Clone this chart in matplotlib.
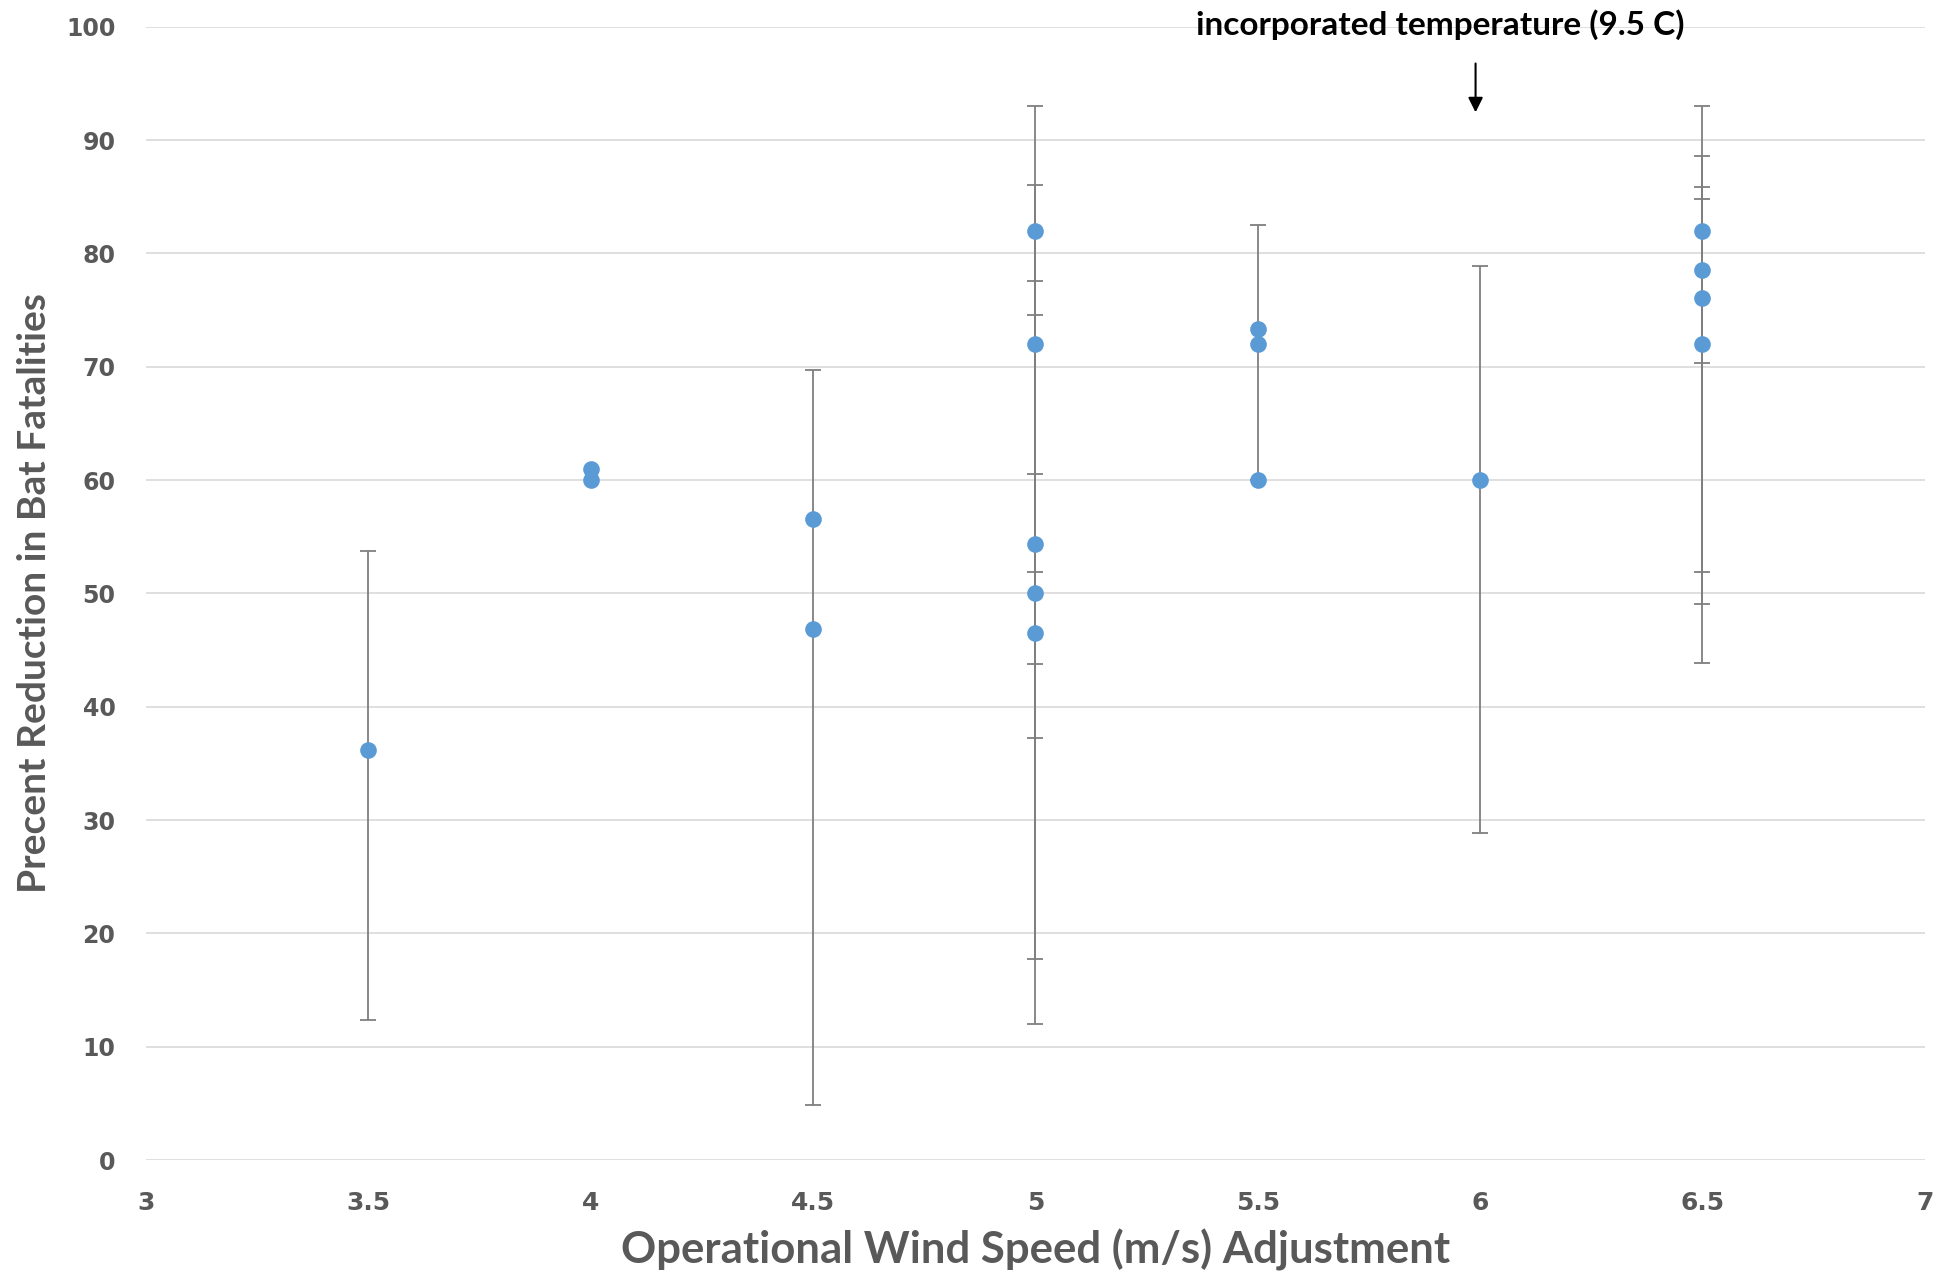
import matplotlib
matplotlib.use("Agg")
import matplotlib.pyplot as plt
import numpy as np

# points: wind speed (m/s), % reduction
wind_speed = [3.5, 4.0, 4.0, 4.5, 4.5, 5.0, 5.0, 5.0, 5.0, 5.0,
              5.5, 5.5, 5.5, 6.0, 6.5, 6.5, 6.5, 6.5]
reduction = [36.2, 61.0, 60.0, 56.6, 46.9, 82.0, 72.0, 54.4, 50.0, 46.5,
             73.3, 72.0, 60.0, 60.0, 82.0, 78.5, 76.1, 72.0]
# confidence bounds (NaN = no error bar)
ci_low = [12.4, np.nan, np.nan, 4.9, np.nan, 60.5, 43.8, 37.2, 17.7, 12.0,
          np.nan, 60.0, np.nan, 28.9, 70.3, 51.9, 49.1, 43.9]
ci_high = [53.7, np.nan, np.nan, 69.7, np.nan, 93.0, 86.0, 77.6, 74.6, 51.9,
           np.nan, 82.5, np.nan, 78.9, 93.0, 88.6, 85.9, 84.8]

x_ticks = [3, 3.5, 4, 4.5, 5, 5.5, 6, 6.5, 7]
x_tick_labels = ["3", "3.5", "4", "4.5", "5", "5.5", "6", "6.5", "7"]
y_ticks = list(range(0, 101, 10))

NOTE_TEXT = "incorporated temperature (9.5 C)"
NOTE_X = 6.0

DOT_COLOR = "#5B9BD5"
BAR_COLOR = "#7F7F7F"
TEXT_GRAY = "#595959"
LABEL_FONT = ["Lato", "DejaVu Sans"]

x = np.array(wind_speed)
y = np.array(reduction)
lo = np.array(ci_low)
hi = np.array(ci_high)
has_bar = ~np.isnan(lo)

fig = plt.figure(figsize=(19.54, 12.72), dpi=100)
ax = fig.add_axes([0.0747, 0.088, 0.9103, 0.891])

ax.errorbar(x[has_bar], y[has_bar],
            yerr=[y[has_bar] - lo[has_bar], hi[has_bar] - y[has_bar]],
            fmt="none", ecolor=BAR_COLOR, elinewidth=1.3, capsize=6,
            capthick=1.3, zorder=2)
ax.plot(x, y, "o", color=DOT_COLOR, markersize=12, markeredgewidth=0,
        zorder=3)

ax.set_xlim(3, 7)
ax.set_ylim(0, 100)
ax.set_xticks(x_ticks)
ax.set_xticklabels(x_tick_labels)
ax.set_yticks(y_ticks)

for side in ["top", "right", "left", "bottom"]:
    ax.spines[side].set_visible(False)
ax.grid(axis="y", color="#D9D9D9", linewidth=1.2, zorder=0)
ax.set_axisbelow(True)
ax.tick_params(axis="y", length=0, pad=22, labelsize=17, labelcolor=TEXT_GRAY)
ax.tick_params(axis="x", length=0, pad=22, labelsize=18, labelcolor=TEXT_GRAY)
for lbl in ax.get_xticklabels() + ax.get_yticklabels():
    lbl.set_fontweight("bold")

ax.set_xlabel("Operational Wind Speed (m/s) Adjustment", family=LABEL_FONT,
              fontsize=31.5, fontweight="bold", color=TEXT_GRAY, labelpad=10)
ax.set_ylabel("Precent Reduction in Bat Fatalities", family=LABEL_FONT,
              fontsize=28, fontweight="bold", color=TEXT_GRAY, labelpad=10)

ax.text(5.91, 100.2, NOTE_TEXT, family=LABEL_FONT,
        fontsize=24, fontweight="bold", color="black",
        ha="center", va="center", zorder=5, clip_on=False)
ax.annotate("", xy=(NOTE_X - 0.01, 92.2), xytext=(NOTE_X - 0.01, 97.0),
            arrowprops=dict(arrowstyle="-|>", color="black", lw=1.5,
                            mutation_scale=22))

fig.savefig("out.png", dpi=100)
plt.close(fig)
